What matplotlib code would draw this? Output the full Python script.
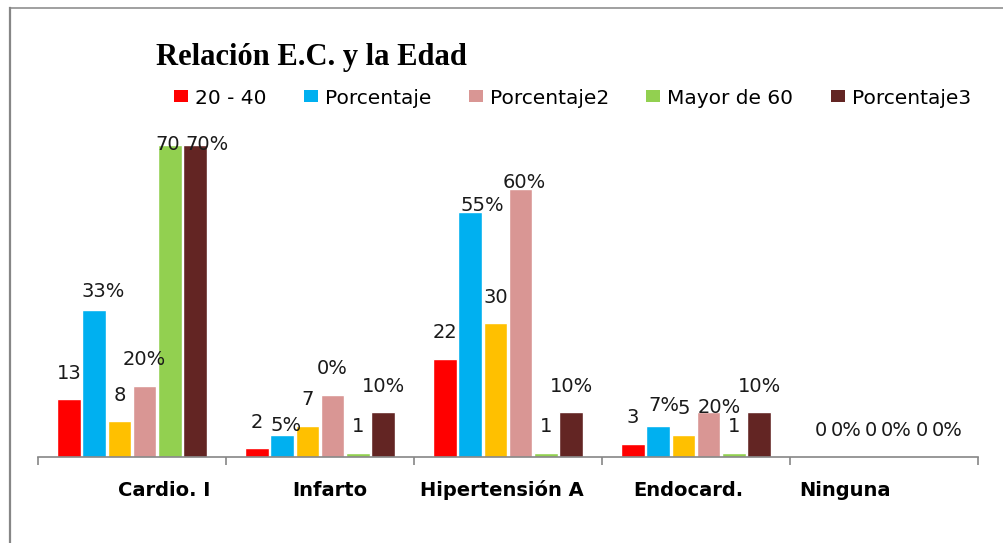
import matplotlib.pyplot as plt
import numpy as np
from matplotlib.lines import Line2D
from matplotlib.patches import Patch

# datos
categorias = ["Cardio. I", "Infarto", "Hipertensión A", "Endocard.", "Ninguna"]
series = ["20 - 40", "Porcentaje", "41 - 60", "Porcentaje2", "Mayor de 60", "Porcentaje3"]
en_leyenda = [True, True, False, True, True, True]

edad_20_40 = [13, 2, 22, 3, 0]
porcentaje = [33, 5, 55, 7, 0]
edad_41_60 = [8, 7, 30, 5, 0]
porcentaje2 = [16, 14, 60, 10, 0]
mayor_60 = [70, 1, 1, 1, 0]
porcentaje3 = [70, 10, 10, 10, 0]

etiq_20_40 = ["13", "2", "22", "3", "0"]
etiq_porcentaje = ["33%", "5%", "55%", "7%", "0%"]
etiq_41_60 = ["8", "7", "30", "5", "0"]
etiq_porcentaje2 = ["20%", "0%", "60%", "20%", "0%"]
etiq_mayor_60 = ["70", "1", "1", "1", "0"]
etiq_porcentaje3 = ["70%", "10%", "10%", "10%", "0%"]

valores = [edad_20_40, porcentaje, edad_41_60, porcentaje2, mayor_60, porcentaje3]
etiquetas = [etiq_20_40, etiq_porcentaje, etiq_41_60, etiq_porcentaje2,
             etiq_mayor_60, etiq_porcentaje3]
colores = ["#FF0000", "#00B0F0", "#FFC000", "#D99694", "#92D050", "#632523"]

# ajustes de posicion de algunas etiquetas (px): (serie, categoria) -> (dx, dy)
ajustes = {(1, 0): (9, 18), (1, 1): (4, 9), (1, 2): (12, 6), (1, 3): (6, 20),
           (3, 2): (4, 7), (3, 3): (11, 5), (4, 0): (-2, 0), (5, 0): (12, 0)}
# desplazamiento horizontal de los nombres de categoria (px)
despl_cat = [32, 10, -6, -8, -39]

W, H = 1004, 543
fig = plt.figure(figsize=(W / 100, H / 100), dpi=100)
ax = fig.add_axes([38 / W, (H - 457) / H, 940 / W, (457 - 131) / H])

x = np.arange(len(categorias))
paso = 0.1345
ancho = 0.125
px = 0.72  # puntos por pixel

for i, (vals, etq, col) in enumerate(zip(valores, etiquetas, colores)):
    pos = x + (i - 2.5) * paso
    ax.bar(pos, vals, width=ancho, color=col, edgecolor="white", linewidth=1, zorder=2)
    for j, (p, v, t) in enumerate(zip(pos, vals, etq)):
        dx, dy = ajustes.get((i, j), (0, 5 if v > 45 else 26))
        ax.annotate(t, xy=(p, v), xytext=(dx * px, dy * px), textcoords="offset points",
                    ha="center", va="center", fontsize=14, color="#1a1a1a", zorder=3)

ax.set_xlim(-0.5, len(categorias) - 0.5)
ax.set_ylim(0, 73.1)
for s in ["top", "right", "left"]:
    ax.spines[s].set_visible(False)
ax.spines["bottom"].set_color("#868686")
ax.spines["bottom"].set_linewidth(1.2)
ax.set_yticks([])
ax.set_xticks(np.arange(-0.5, len(categorias), 1.0))
ax.set_xticklabels([])
ax.tick_params(axis="x", length=8 * px, width=1.2, color="#868686", direction="out")

for j, cat in enumerate(categorias):
    ax.annotate(cat, xy=(x[j], 0), xycoords=("data", "axes fraction"),
                xytext=(despl_cat[j] * px, -33 * px), textcoords="offset points",
                ha="center", va="center", fontsize=14, fontweight="bold", color="black")

fig.text(311.5 / W, 1 - 65 / H, "Relación E.C. y la Edad", ha="center", va="baseline",
         fontsize=22, fontweight="bold", family="Liberation Serif")

handles = [Patch(facecolor=c, edgecolor="none") for c, e in zip(colores, en_leyenda) if e]
nombres = [s for s, e in zip(series, en_leyenda) if e]
fig.legend(handles, nombres, loc="center left", bbox_to_anchor=(174 / W, 1 - 98 / H),
           ncol=5, frameon=False, fontsize=14.5, handlelength=0.7, handleheight=0.55,
           handletextpad=0.35, columnspacing=1.85, borderaxespad=0, borderpad=0)

# borde del area del grafico
fig.add_artist(Line2D([10 / W, 10 / W], [0, 1 - 8 / H], color="#868686", linewidth=1.6))
fig.add_artist(Line2D([10 / W, 1], [1 - 8 / H, 1 - 8 / H], color="#868686", linewidth=1.1))

plt.savefig("out.png", dpi=100)
